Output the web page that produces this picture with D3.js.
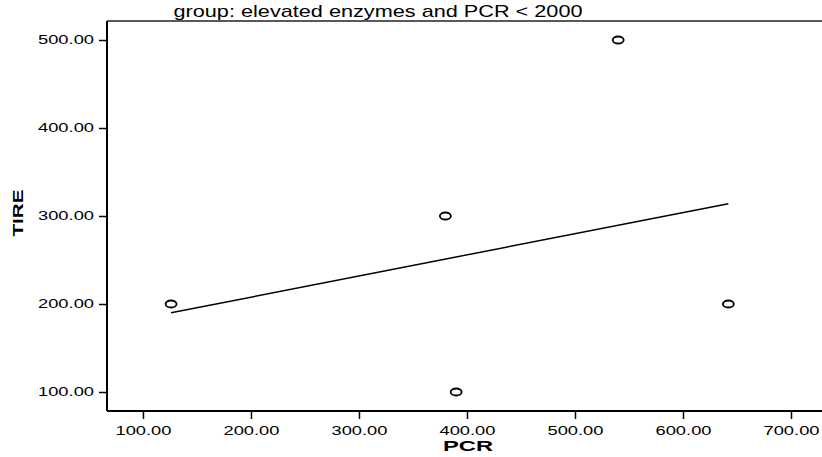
<!DOCTYPE html>
<html>
<head>
<meta charset="utf-8">
<script src="https://cdn.jsdelivr.net/npm/d3@7"></script>
<style>
body { margin: 0; background: #fff; }
text { font-family: "Liberation Sans", Arial, sans-serif; fill: #000; }
</style>
</head>
<body>
<div id="chart"></div>
<script>
var pcr = [126, 380, 540, 642, 390];
var tire = [200, 300, 500, 200, 100];
var fitLine = [[126, 190], [642, 314]];
var xTicks = [100, 200, 300, 400, 500, 600, 700];
var yTicks = [100, 200, 300, 400, 500];

var width = 822, height = 457;
var mLeft = 107, mTop = 21, mRight = 822, mBottom = 411;

var svg = d3.select("#chart")
    .append("svg")
    .attr("width", width)
    .attr("height", height);

var x = d3.scaleLinear().domain([66.7, 728.7]).range([mLeft, mRight]);
var y = d3.scaleLinear().domain([78.4, 521.6]).range([mBottom, mTop]);

// frame top
svg.append("line")
    .attr("x1", mLeft).attr("x2", mRight)
    .attr("y1", mTop).attr("y2", mTop)
    .attr("stroke", "#222").attr("stroke-width", 1.5);

var gx = svg.append("g")
    .attr("transform", "translate(0," + mBottom + ")")
    .call(d3.axisBottom(x).tickValues(xTicks).tickSize(8).tickPadding(7)
        .tickFormat(d3.format(".2f")));
var gy = svg.append("g")
    .attr("transform", "translate(" + mLeft + ",0)")
    .call(d3.axisLeft(y).tickValues(yTicks).tickSize(8).tickPadding(5)
        .tickFormat(d3.format(".2f")));

[gx, gy].forEach(function(g) {
    g.select(".domain").attr("stroke", "#000").attr("stroke-width", 2);
    g.selectAll(".tick line").attr("stroke", "#000").attr("stroke-width", 1.5);
    g.selectAll(".tick text")
        .style("font-size", "12px")
        .style("font-family", "Liberation Sans, Arial, sans-serif")
        .attr("textLength", 56)
        .attr("lengthAdjust", "spacingAndGlyphs");
});
gx.select(".domain").attr("d", "M" + mLeft + ",0H" + mRight);
gy.select(".domain").attr("d", "M0," + mTop + "V" + mBottom);

// regression line
svg.append("line")
    .attr("x1", x(fitLine[0][0])).attr("y1", y(fitLine[0][1]))
    .attr("x2", x(fitLine[1][0])).attr("y2", y(fitLine[1][1]))
    .attr("stroke", "#000").attr("stroke-width", 1.5);

// points
svg.append("g").selectAll("ellipse")
    .data(pcr)
    .enter()
    .append("ellipse")
    .attr("cx", function(d) { return x(d); })
    .attr("cy", function(d, i) { return y(tire[i]); })
    .attr("rx", 5.5)
    .attr("ry", 3.5)
    .attr("fill", "none")
    .attr("stroke", "#000")
    .attr("stroke-width", 1.8);

svg.append("text")
    .attr("x", 378).attr("y", 17)
    .attr("text-anchor", "middle")
    .attr("textLength", 409)
    .attr("lengthAdjust", "spacingAndGlyphs")
    .style("font-size", "17px")
    .text("group: elevated enzymes and PCR < 2000");

svg.append("text")
    .attr("x", 468).attr("y", 451)
    .attr("text-anchor", "middle")
    .attr("textLength", 50)
    .attr("lengthAdjust", "spacingAndGlyphs")
    .style("font-size", "14px")
    .style("font-weight", "bold")
    .text("PCR");

svg.append("text")
    .attr("transform", "translate(23,213) rotate(-90)")
    .attr("text-anchor", "middle")
    .attr("textLength", 47)
    .attr("lengthAdjust", "spacingAndGlyphs")
    .style("font-size", "14px")
    .style("font-weight", "bold")
    .text("TIRE");
</script>
</body>
</html>
